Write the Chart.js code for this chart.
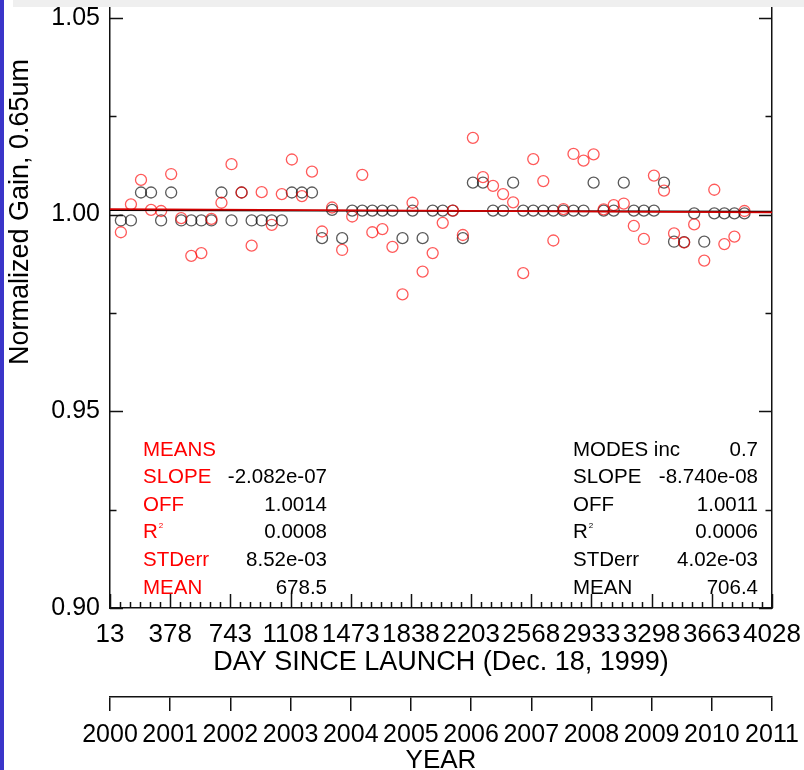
<!DOCTYPE html>
<html>
<head>
<meta charset="utf-8">
<title>Normalized Gain, 0.65um</title>
<script src="https://cdn.jsdelivr.net/npm/chart.js@4.4.0/dist/chart.umd.min.js"></script>
<style>
  html, body { margin: 0; padding: 0; background: #fff; }
  #gainChart { display: block; }
</style>
</head>
<body>
<canvas id="gainChart" width="804" height="770"></canvas>
<script>
// days since launch for each sample
const days = [
  79, 140, 201, 262, 323, 384, 445, 506, 567, 628,
  689, 750, 811, 872, 933, 994, 1055, 1116, 1177, 1238,
  1299, 1360, 1421, 1482, 1543, 1604, 1665, 1726, 1787, 1848,
  1909, 1970, 2031, 2092, 2153, 2214, 2275, 2336, 2397, 2458,
  2519, 2580, 2641, 2702, 2763, 2824, 2885, 2946, 3007, 3068,
  3129, 3190, 3251, 3312, 3373, 3434, 3495, 3556, 3617, 3678,
  3739, 3800, 3861
];

// normalized gain from the means (red)
const meanGain = [
  0.9955, 1.0026, 1.0088, 1.0012, 1.0009, 1.0103, 0.9991, 0.9895, 0.9902, 0.9989,
  1.0030, 1.0128, 1.0056, 0.9921, 1.0057, 0.9974, 1.0052, 1.0140, 1.0047, 1.0109,
  0.9957, 1.0018, 0.9910, 0.9995, 1.0101, 0.9955, 0.9963, 0.9918, 0.9797, 1.0030,
  0.9855, 0.9902, 0.9979, 1.0010, 0.9948, 1.0195, 1.0095, 1.0073, 1.0052, 1.0031,
  0.9851, 1.0141, 1.0085, 0.9934, 1.0014, 1.0154, 1.0137, 1.0153, 1.0013, 1.0024,
  1.0028, 0.9971, 0.9938, 1.0099, 1.0061, 0.9952, 0.9929, 0.9975, 0.9883, 1.0063,
  0.9925, 0.9944, 1.0009
];

// normalized gain from the modes (black)
const modeGain = [
  0.9985, 0.9985, 1.0056, 1.0056, 0.9985, 1.0056, 0.9985, 0.9985, 0.9985, 0.9985,
  1.0056, 0.9985, 1.0056, 0.9985, 0.9985, 0.9985, 0.9985, 1.0056, 1.0056, 1.0056,
  0.9940, 1.0012, 0.9940, 1.0010, 1.0010, 1.0010, 1.0010, 1.0010, 0.9940, 1.0010,
  0.9940, 1.0010, 1.0010, 1.0010, 0.9940, 1.0081, 1.0081, 1.0010, 1.0010, 1.0081,
  1.0010, 1.0010, 1.0010, 1.0010, 1.0010, 1.0010, 1.0010, 1.0081, 1.0010, 1.0010,
  1.0081, 1.0010, 1.0010, 1.0010, 1.0081, 0.9931, 0.9930, 1.0003, 0.9931, 1.0003,
  1.0003, 1.0003, 1.0003
];

const dayTicks = [13, 378, 743, 1108, 1473, 1838, 2203, 2568, 2933, 3298, 3663, 4028];
const yearLabels = ['2000', '2001', '2002', '2003', '2004', '2005', '2006', '2007', '2008', '2009', '2010', '2011'];
const gainTicks = [0.90, 0.95, 1.00, 1.05];

// fit statistics
const meansSlope = -2.082e-07;
const meansOff = 1.0014;
const meansR2 = 0.0008;
const meansStdErr = 8.52e-03;
const meansMean = 678.5;

const modesInc = 0.7;
const modesSlope = -8.740e-08;
const modesOff = 1.0011;
const modesR2 = 0.0006;
const modesStdErr = 4.02e-03;
const modesMean = 706.4;

const FONT = '"Liberation Sans", Arial, Helvetica, sans-serif';
const AXIS = '#111';

function fmtExp(v, digits) {
  return v.toExponential(digits).replace(/e([+-])(\d)$/, 'e$10$2');
}

function fitLine(off, slope) {
  const x0 = dayTicks[0], x1 = dayTicks[dayTicks.length - 1];
  return [{ x: x0, y: off + slope * x0 }, { x: x1, y: off + slope * x1 }];
}

const pts = (vals) => days.map((d, i) => ({ x: d, y: vals[i] }));

// IDL style decorations: inward ticks, stats block, rotated y title
const frame = {
  id: 'frame',
  beforeDraw(chart) {
    const { ctx, width, height } = chart;
    ctx.save();
    ctx.fillStyle = '#fff';
    ctx.fillRect(0, 0, width, height);
    ctx.restore();
  },
  afterDraw(chart) {
    const { ctx, chartArea: a, scales: { x, y } } = chart;
    ctx.save();
    ctx.strokeStyle = AXIS;
    ctx.lineWidth = 1.5;
    ctx.beginPath();
    // bottom axis: majors + 5 minors between
    for (let i = 0; i < dayTicks.length; i++) {
      const px = Math.round(x.getPixelForValue(dayTicks[i])) + 0.5;
      ctx.moveTo(px, a.bottom); ctx.lineTo(px, a.bottom - 14);
      if (i < dayTicks.length - 1) {
        const step = (dayTicks[i + 1] - dayTicks[i]) / 6;
        for (let k = 1; k < 6; k++) {
          const mx = Math.round(x.getPixelForValue(dayTicks[i] + k * step)) + 0.5;
          ctx.moveTo(mx, a.bottom); ctx.lineTo(mx, a.bottom - 6);
        }
      }
    }
    // left and right axes
    for (let i = 0; i < gainTicks.length; i++) {
      const py = Math.round(y.getPixelForValue(gainTicks[i])) + 0.5;
      ctx.moveTo(a.left, py); ctx.lineTo(a.left + 13, py);
      ctx.moveTo(a.right, py); ctx.lineTo(a.right - 13, py);
      if (i < gainTicks.length - 1) {
        const my = Math.round(y.getPixelForValue((gainTicks[i] + gainTicks[i + 1]) / 2)) + 0.5;
        ctx.moveTo(a.left, my); ctx.lineTo(a.left + 6.5, my);
        ctx.moveTo(a.right, my); ctx.lineTo(a.right - 6.5, my);
      }
    }
    ctx.stroke();

    // stats blocks
    const rows = (x0, xr, labels, values, labelColor, y0) => {
      ctx.font = '20.5px ' + FONT;
      ctx.textBaseline = 'alphabetic';
      labels.forEach((lab, i) => {
        const by = y0 + i * 27.6;
        ctx.fillStyle = labelColor;
        ctx.textAlign = 'left';
        if (lab === 'R2') {
          ctx.fillText('R', x0, by);
          const w = ctx.measureText('R').width;
          ctx.font = '8px ' + FONT;
          ctx.fillText('2', x0 + w + 1, by - 10);
          ctx.font = '20.5px ' + FONT;
        } else {
          ctx.fillText(lab, x0, by);
        }
        if (values[i] !== '') {
          ctx.fillStyle = '#000';
          ctx.textAlign = 'right';
          ctx.fillText(values[i], xr, by);
        }
      });
    };
    rows(143, 327,
      ['MEANS', 'SLOPE', 'OFF', 'R2', 'STDerr', 'MEAN'],
      ['', fmtExp(meansSlope, 3), meansOff.toFixed(4), meansR2.toFixed(4), fmtExp(meansStdErr, 2), meansMean.toFixed(1)],
      '#ff0000', 455.5);
    rows(573, 758,
      ['MODES inc', 'SLOPE', 'OFF', 'R2', 'STDerr', 'MEAN'],
      [modesInc.toFixed(1), fmtExp(modesSlope, 3), modesOff.toFixed(4), modesR2.toFixed(4), fmtExp(modesStdErr, 2), modesMean.toFixed(1)],
      '#000', 455.5);

    // y title
    ctx.save();
    ctx.translate(21, 212);
    ctx.rotate(-Math.PI / 2);
    ctx.fillStyle = '#000';
    ctx.font = '27px ' + FONT;
    ctx.textAlign = 'center';
    ctx.textBaseline = 'middle';
    ctx.fillText('Normalized Gain, 0.65um', 0, 0);
    ctx.restore();

    // window chrome at the edges
    ctx.fillStyle = '#efefef';
    ctx.fillRect(13, 0, chart.width - 13, 7);
    ctx.fillStyle = '#3a35c9';
    ctx.fillRect(0, 0, 4, chart.height);
    ctx.restore();
  }
};

const tickFont = { family: FONT, size: 26 };

new Chart(document.getElementById('gainChart').getContext('2d'), {
  type: 'scatter',
  data: {
    datasets: [
      { label: 'MEANS fit', data: fitLine(meansOff, meansSlope), showLine: true, borderColor: 'rgb(210,0,0)', borderWidth: 1.8, pointRadius: 0, order: 0 },
      { label: 'MODES fit', data: fitLine(modesOff, modesSlope), showLine: true, borderColor: '#000', borderWidth: 1.6, pointRadius: 0, order: 1 },
      { label: 'MEANS', data: pts(meanGain), pointStyle: 'circle', pointRadius: 5.5, borderWidth: 1.3,
        borderColor: 'rgba(255,0,0,0.65)', backgroundColor: 'rgba(0,0,0,0)', order: 2 },
      { label: 'MODES', data: pts(modeGain), pointStyle: 'circle', pointRadius: 5.5, borderWidth: 1.3,
        borderColor: 'rgba(0,0,0,0.65)', backgroundColor: 'rgba(0,0,0,0)', order: 3 }
    ]
  },
  options: {
    responsive: false,
    animation: false,
    devicePixelRatio: 1,
    layout: { padding: { top: 8, left: 0, right: 0, bottom: 0 } },
    plugins: { legend: { display: false }, tooltip: { enabled: false } },
    scales: {
      x: {
        type: 'linear', position: 'bottom', weight: 0,
        min: dayTicks[0], max: dayTicks[dayTicks.length - 1],
        afterBuildTicks: s => { s.ticks = dayTicks.map(v => ({ value: v })); },
        afterFit: s => { s.height = 89; s.paddingLeft = 0; s.paddingRight = 0; },
        grid: { display: false, drawTicks: false },
        border: { display: true, color: AXIS, width: 1.5 },
        ticks: { autoSkip: false, maxRotation: 0, minRotation: 0, padding: 11, color: '#000', font: tickFont,
          callback: v => String(v) },
        title: { display: true, text: 'DAY SINCE LAUNCH (Dec. 18, 1999)', color: '#000',
          font: { family: FONT, size: 27 }, padding: { top: 0, bottom: 18 } }
      },
      x2: {
        type: 'linear', position: 'bottom', weight: 1,
        min: dayTicks[0], max: dayTicks[dayTicks.length - 1],
        afterBuildTicks: s => { s.ticks = dayTicks.map(v => ({ value: v })); },
        afterFit: s => { s.height = 73; s.paddingLeft = 0; s.paddingRight = 0; },
        grid: { display: true, drawOnChartArea: false, drawTicks: true, tickLength: 14,
          color: AXIS, tickColor: AXIS, tickWidth: 1.5, lineWidth: 1.5 },
        border: { display: true, color: AXIS, width: 1.5 },
        ticks: { autoSkip: false, maxRotation: 0, minRotation: 0, padding: 9, color: '#000',
          font: { family: FONT, size: 25 }, callback: (v, i) => yearLabels[i] },
        title: { display: true, text: 'YEAR', color: '#000',
          font: { family: FONT, size: 26, lineHeight: 0.7 }, padding: 0 }
      },
      y: {
        type: 'linear', position: 'left',
        min: 0.90, max: 1.0525,
        afterBuildTicks: s => { s.ticks = gainTicks.map(v => ({ value: v })); },
        afterFit: s => { s.width = 110; s.paddingTop = 0; s.paddingBottom = 0; },
        grid: { display: false, drawTicks: false },
        border: { display: true, color: AXIS, width: 1.5 },
        ticks: { padding: 10, color: '#000', font: { family: FONT, size: 25 }, callback: v => v.toFixed(2) }
      },
      y2: {
        type: 'linear', position: 'right',
        min: 0.90, max: 1.0525,
        afterFit: s => { s.width = 32; s.paddingTop = 0; s.paddingBottom = 0; },
        grid: { display: false, drawTicks: false },
        border: { display: true, color: AXIS, width: 1.5 },
        ticks: { display: false }
      }
    }
  },
  plugins: [frame]
});
</script>
</body>
</html>
